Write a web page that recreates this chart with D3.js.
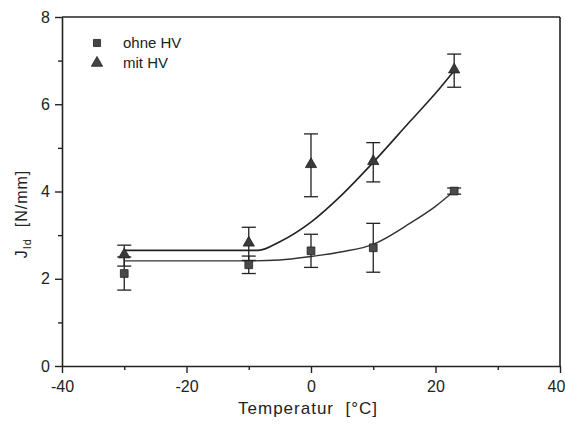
<!DOCTYPE html>
<html>
<head>
<meta charset="utf-8">
<script src="https://cdn.jsdelivr.net/npm/d3@7"></script>
<style>
body { margin: 0; background: #fff; }
text { font-family: "Liberation Sans", Arial, sans-serif; fill: #222; }
</style>
</head>
<body>
<div class="mainCont"></div>
<script>
// measured points
var temps = [-30, -10, 0, 10, 23];
var ohneHV = [2.12, 2.32, 2.64, 2.71, 4.01];
var ohneErr = [0.38, 0.2, 0.38, 0.56, 0.07];
var mitHV = [2.53, 2.8, 4.6, 4.67, 6.77];
var mitErr = [0.24, 0.38, 0.72, 0.45, 0.38];

// fitted curves
var ohneFitT = [-30, -10, -5, 0, 5, 10, 16, 20, 23];
var ohneFitJ = [2.41, 2.41, 2.43, 2.51, 2.62, 2.79, 3.28, 3.66, 4.01];
var mitFitT = [-30, -8.5, -5, 0, 5, 10, 16, 20, 23];
var mitFitJ = [2.65, 2.65, 2.85, 3.3, 3.93, 4.67, 5.62, 6.25, 6.77];

var xTicks = [-40, -20, 0, 20, 40];
var xMinor = [-30, -10, 10, 30];
var yTicks = [0, 2, 4, 6, 8];
var yMinor = [1, 3, 5, 7];
var legendNames = ["ohne HV", "mit HV"];

var width = 565,
    height = 426;

var x = d3.scaleLinear().domain([-40, 40]).range([62, 560]);
var y = d3.scaleLinear().domain([0, 8]).range([366, 17]);

var svg = d3.select(".mainCont").append("svg")
    .attr("width", width)
    .attr("height", height);

// frame top + right
svg.append("line")
    .attr("x1", x(-40)).attr("x2", x(40))
    .attr("y1", y(8)).attr("y2", y(8))
    .attr("stroke", "#222").attr("stroke-width", 1.6);
svg.append("line")
    .attr("x1", x(40)).attr("x2", x(40))
    .attr("y1", y(8)).attr("y2", y(0))
    .attr("stroke", "#222").attr("stroke-width", 1.6);

// minor ticks
svg.append("g")
    .attr("transform", "translate(0," + y(0) + ")")
    .call(d3.axisBottom(x).tickValues(xMinor).tickSize(4).tickFormat(""))
    .call(function(g) { g.select(".domain").remove(); });
svg.append("g")
    .attr("transform", "translate(" + x(-40) + ",0)")
    .call(d3.axisLeft(y).tickValues(yMinor).tickSize(4).tickFormat(""))
    .call(function(g) { g.select(".domain").remove(); });

// main axes (plain hyphen like the original)
var fmt = function(d) { return String(d); };
var xAxis = svg.append("g")
    .attr("transform", "translate(0," + y(0) + ")")
    .call(d3.axisBottom(x).tickValues(xTicks).tickFormat(fmt).tickSize(7).tickSizeOuter(0).tickPadding(8));
var yAxis = svg.append("g")
    .attr("transform", "translate(" + x(-40) + ",0)")
    .call(d3.axisLeft(y).tickValues(yTicks).tickFormat(fmt).tickSize(7).tickSizeOuter(0).tickPadding(5));

svg.selectAll(".domain").attr("stroke", "#222").attr("stroke-width", 1.6);
svg.selectAll(".tick line").attr("stroke", "#222").attr("stroke-width", 1.4);
svg.selectAll(".tick text")
    .style("font-family", "'Liberation Sans', Arial, sans-serif")
    .style("font-size", "16px")
    .attr("fill", "#222");

// last x label sits at the page edge, pull it in a bit
xAxis.selectAll(".tick text")
    .filter(function(d) { return d === 40; })
    .attr("dx", -4);

// axis titles
svg.append("text")
    .attr("x", 308)
    .attr("y", 414)
    .attr("text-anchor", "middle")
    .style("font-size", "17px")
    .style("letter-spacing", "1px")
    .style("white-space", "pre")
    .text("Temperatur  [°C]");

var yl = svg.append("text")
    .attr("transform", "translate(27,214) rotate(-90)")
    .attr("text-anchor", "middle")
    .style("font-size", "16px")
    .style("letter-spacing", "1px")
    .style("white-space", "pre");
yl.append("tspan").text("J");
yl.append("tspan").attr("dy", 4).style("font-size", "11px").text("Id");
yl.append("tspan").attr("dy", -4).text("  [N/mm]");

// fit curves
var line = d3.line()
    .x(function(d) { return x(d[0]); })
    .y(function(d) { return y(d[1]); })
    .curve(d3.curveMonotoneX);

svg.append("path")
    .datum(d3.zip(ohneFitT, ohneFitJ))
    .attr("d", line)
    .attr("fill", "none")
    .attr("stroke", "#333")
    .attr("stroke-width", 1.4);
svg.append("path")
    .datum(d3.zip(mitFitT, mitFitJ))
    .attr("d", line)
    .attr("fill", "none")
    .attr("stroke", "#222")
    .attr("stroke-width", 1.6);

// error bars
function errorBars(vals, errs) {
    var g = svg.append("g").attr("stroke", "#222").attr("stroke-width", 1.3);
    var rows = d3.zip(temps, vals, errs);
    g.selectAll(".v").data(rows).enter().append("line")
        .attr("x1", function(d) { return x(d[0]); })
        .attr("x2", function(d) { return x(d[0]); })
        .attr("y1", function(d) { return y(d[1] - d[2]); })
        .attr("y2", function(d) { return y(d[1] + d[2]); });
    [-1, 1].forEach(function(s) {
        g.selectAll(".c" + s).data(rows).enter().append("line")
            .attr("x1", function(d) { return x(d[0]) - 7; })
            .attr("x2", function(d) { return x(d[0]) + 7; })
            .attr("y1", function(d) { return y(d[1] + s * d[2]); })
            .attr("y2", function(d) { return y(d[1] + s * d[2]); });
    });
}
errorBars(ohneHV, ohneErr);
errorBars(mitHV, mitErr);

// markers
var sq = d3.symbol().type(d3.symbolSquare).size(60);
var tri = d3.symbol().type(d3.symbolTriangle).size(55);

svg.selectAll(".sq").data(d3.zip(temps, ohneHV)).enter().append("path")
    .attr("d", sq)
    .attr("transform", function(d) { return "translate(" + x(d[0]) + "," + y(d[1]) + ")"; })
    .attr("fill", "#4a4a4a")
    .attr("stroke", "#222")
    .attr("stroke-width", 0.8);
svg.selectAll(".tri").data(d3.zip(temps, mitHV)).enter().append("path")
    .attr("d", tri)
    .attr("transform", function(d) { return "translate(" + x(d[0]) + "," + (y(d[1]) - 1) + ")"; })
    .attr("fill", "#3a3a3a")
    .attr("stroke", "#222")
    .attr("stroke-width", 0.8);

// legend
var legend = svg.selectAll(".leg")
    .data(legendNames)
    .enter().append("g")
    .attr("transform", function(d, i) { return "translate(97," + (43 + i * 20) + ")"; });
legend.append("path")
    .attr("d", function(d, i) { return i === 0 ? d3.symbol().type(d3.symbolSquare).size(50)() : tri(); })
    .attr("fill", "#444")
    .attr("stroke", "#222")
    .attr("stroke-width", 0.8);
legend.append("text")
    .attr("x", 26)
    .attr("dy", "0.35em")
    .style("font-size", "15px")
    .text(function(d) { return d; });
</script>
</body>
</html>
